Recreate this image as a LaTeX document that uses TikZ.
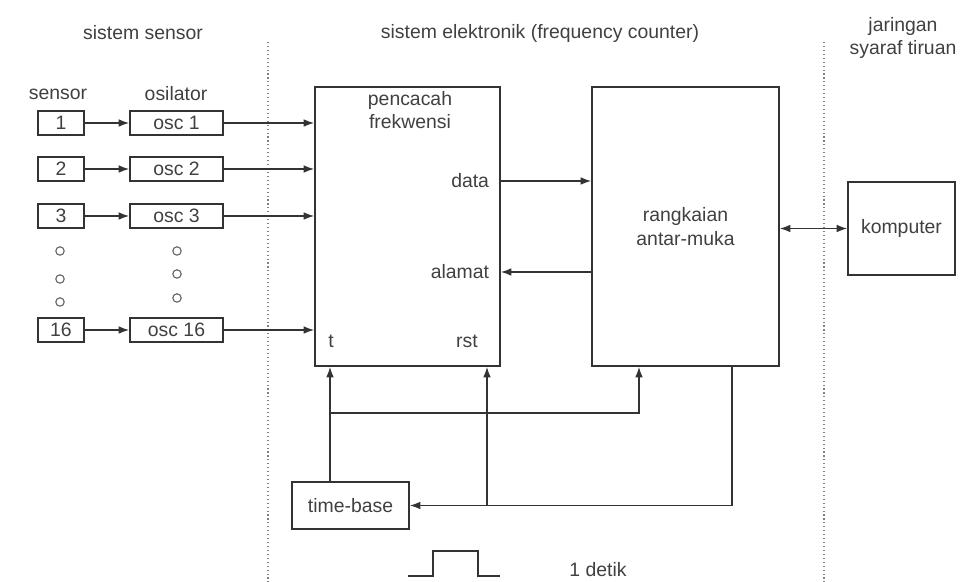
\documentclass[tikz,border=0pt]{standalone}
\usepackage{fontspec}
\setmainfont{Liberation Sans}
\usepackage{tikz}
\usetikzlibrary{arrows.meta,positioning}

\begin{document}
\begin{tikzpicture}[
		x=0.025cm, y=-0.025cm,
		>={Latex[length=7.5pt,width=5.5pt]},
		font=\fontsize{13.8}{16.5}\selectfont,
		every node/.style={text=black!75},
		line/.style={draw=black!80, line width=1.1pt},
		box/.style={line, rectangle, inner sep=0pt, align=center},
		sbox/.style={box, minimum width=1.15cm, minimum height=0.6cm},
		obox/.style={box, minimum width=2.325cm, minimum height=0.6cm},
		bigbox/.style={box, minimum width=4.65cm, minimum height=6.975cm},
		sep/.style={draw=black!50, dotted, line width=0.8pt},
		dot/.style={circle, draw=black!60, line width=0.8pt, minimum size=0.21cm, inner sep=0pt}
		]
		\useasboundingbox (0,0) rectangle (976,582);
		
		% Section headers and separators
		\node (hsensor) at (143,33) {sistem sensor};
		\node (helek) at (540,33) {sistem elektronik (frequency counter)};
		\node[align=center] (hjst) at (903,38) {jaringan\\syaraf tiruan};
		\draw[sep] (268,42) -- (268,582);
		\draw[sep] (824,42) -- (824,582);
		
		% Sensors and oscillators
		\node (lblsensor) at (58,94) {sensor};
		\node (lblosc) at (176,94) {osilator};
		\node[sbox] (s1) at (61,123) {1};
		\node[sbox] (s2) at (61,169) {2};
		\node[sbox] (s3) at (61,216) {3};
		\node[sbox] (s16) at (61,330) {16};
		\node[obox] (o1) at (176.5,123) {osc 1};
		\node[obox] (o2) at (176.5,169) {osc 2};
		\node[obox] (o3) at (176.5,216) {osc 3};
		\node[obox] (o16) at (176.5,330) {osc 16};
		\foreach \y in {251,279,302} \node[dot] at (60,\y) {};
		\foreach \y in {251,274,298} \node[dot] at (177,\y) {};
		
		% Main blocks
		\node[bigbox, minimum width=4.625cm] (cnt) at (407.5,226.5) {};
		\node[box, minimum width=4.675cm, minimum height=6.975cm] (iface) at (685.5,226.5) {rangkaian\\antar-muka};
		\node[box, minimum width=2.675cm, minimum height=2.325cm] (pc) at (901.5,228.5) {komputer};
		\node[box, minimum width=2.925cm, minimum height=1.175cm] (tb) at (350.5,505.5) {time-base};
		
		% Counter labels
		\node[align=center, anchor=north] (lblcnt) at (410,86) {pencacah\\frekwensi};
		\node[anchor=east] (lbldata) at (494,181) {data};
		\node[anchor=east] (lbladdr) at (494,272) {alamat};
		\node (lblt) at (331,341) {t};
		\node (lblrst) at (467,341) {rst};
		
		% Sensor -> oscillator -> counter
		\foreach \n in {1,2,3,16} {
			\draw[line,->] (s\n) -- (o\n);
			\draw[line,->] (o\n) -- (o\n -| cnt.west);
		}
		
		% Counter <-> interface <-> computer
		\draw[line,->] (cnt.east |- lbldata) -- (iface.west |- lbldata);
		\draw[line,->] (iface.west |- lbladdr) -- (cnt.east |- lbladdr);
		\draw[line,<->] (iface.east |- pc) -- (pc.west);
		
		% Time-base routing
		\coordinate (ja) at (330,413);
		\coordinate (jb) at (639,413);
		\coordinate (jc) at (487,505.5);
		\coordinate (jd) at (732,505.5);
		\draw[line,->] (tb.north -| ja) -- (cnt.south -| ja);
		\draw[line,->] (ja) -- (jb) -- (iface.south -| jb);
		\draw[line,->] (jc) -- (cnt.south -| jc);
		\draw[line,->] (iface.south -| jd) -- (jd) -- (tb.east);
		
		% One second pulse
		\draw[line] (408,576) -- (433,576) -- (433,551) -- (478,551) -- (478,576) -- (500,576);
		\node (lblpulse) at (598,570) {1 detik};
		
\end{tikzpicture}
\end{document}
